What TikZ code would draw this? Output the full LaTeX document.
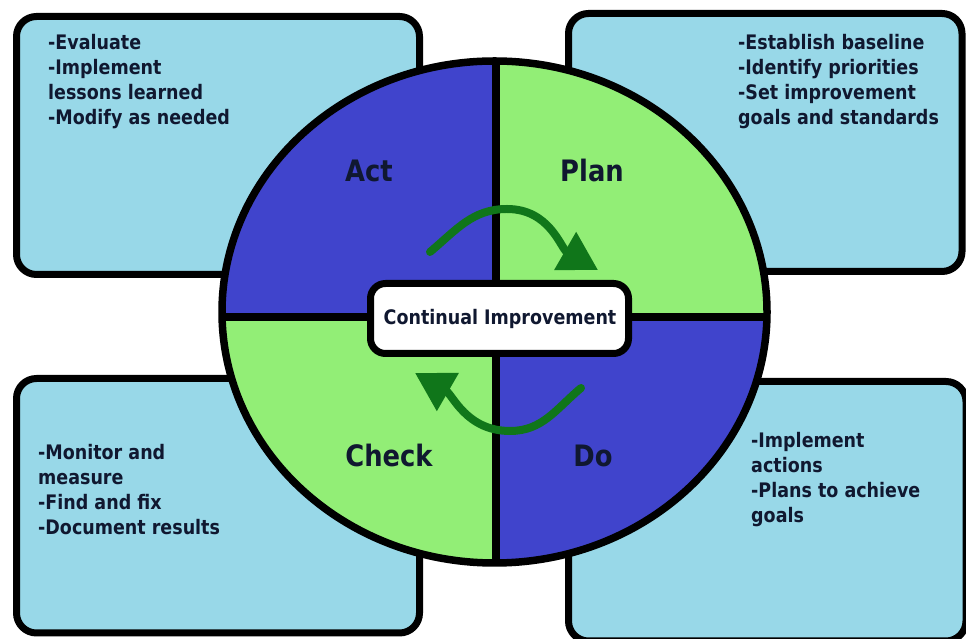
\documentclass[tikz,border=0pt]{standalone}
\usepackage{fontspec}
\newfontfamily\pdcafont{DejaVu Sans}[FakeStretch=0.875]
\usetikzlibrary{arrows.meta}
\definecolor{quadblue}{RGB}{64,68,204}
\definecolor{quadgreen}{RGB}{146,238,118}
\definecolor{boxblue}{RGB}{152,216,232}
\definecolor{arrowgreen}{RGB}{16,118,26}
\definecolor{txt}{RGB}{16,24,48}
\begin{document}
\begin{tikzpicture}[x=1pt,y=1pt,
  infobox/.style={draw=black, line width=7pt, fill=boxblue, rounded corners=20pt},
  infotext/.style={anchor=base west, align=left, inner sep=0pt, text=txt,
    font=\pdcafont\bfseries\fontsize{20}{25}\selectfont},
  phase/.style={anchor=base, inner sep=0pt, text=txt,
    font=\pdcafont\bfseries\fontsize{29.5}{32}\selectfont},
  cyclearrow/.style={arrowgreen, line width=8pt, line cap=round,
    -{Triangle[length=38pt,width=42pt]}},
  divider/.style={line width=7.5pt, black}
]
\useasboundingbox (0,0) rectangle (966,639);
\clip (0,0) rectangle (966,639);
\fill[white] (0,0) rectangle (966,639);

% side boxes
\draw[infobox] (16.5,364.5) rectangle (419.5,622.5);
\draw[infobox] (568.5,367.5) rectangle (962,625.5);
\draw[infobox] (16.5,6) rectangle (419.5,260.5);
\draw[infobox] (568.5,-2) rectangle (966,257.5);

% circle quadrants
\begin{scope}
  \clip (494.5,327) ellipse [x radius=272.5, y radius=251];
  \fill[quadblue]  (200,322) rectangle (496,600);
  \fill[quadgreen] (496,322) rectangle (800,600);
  \fill[quadgreen] (200,50) rectangle (496,322);
  \fill[quadblue]  (496,50) rectangle (800,322);
  \draw[divider] (496,50) -- (496,600);
  \draw[divider] (200,322) -- (800,322);
\end{scope}
\draw[line width=7.5pt] (494.5,327) ellipse [x radius=272.5, y radius=251];

% centre box
\node[draw=black, line width=7pt, fill=white, rounded corners=15pt,
      minimum width=258pt, minimum height=70pt, inner sep=0pt]
      (ci) at (499.5,320.5) {};
\node[anchor=base, inner sep=0pt, text=txt,
      font=\pdcafont\bfseries\fontsize{20}{24}\selectfont]
      (citext) at (500,314) {Continual Improvement};

% arrows
\coordinate (a1s) at (430,387);
\coordinate (a1m) at (507,430);
\coordinate (a1e) at (598,369);
\coordinate (a2s) at (581,251);
\coordinate (a2m) at (510,208);
\coordinate (a2e) at (415,266);
\draw[cyclearrow] (a1s) to[out=40,in=180] (a1m) to[out=0,in=150] (a1e);
\draw[cyclearrow] (a2s) to[out=220,in=0] (a2m) to[out=180,in=-30] (a2e);

% phase labels
\node[phase] (act)   at (369,457) {Act};
\node[phase] (plan)  at (592,457) {Plan};
\node[phase] (check) at (389,172) {Check};
\node[phase] (do)    at (593,172) {Do};

% box texts (anchor at the baseline of the last line)
\node[infotext] (actt) at (48,514) {-Evaluate\\-Implement\\lessons learned\\-Modify as needed};
\node[infotext] (plant) at (738,514) {-Establish baseline\\-Identify priorities\\-Set improvement\\goals and standards};
\node[infotext] (checkt) at (38,104) {-Monitor and\\measure\\-Find and fix\\-Document results};
\node[infotext] (dot) at (751,116) {-Implement\\actions\\-Plans to achieve\\goals};
\end{tikzpicture}
\end{document}
